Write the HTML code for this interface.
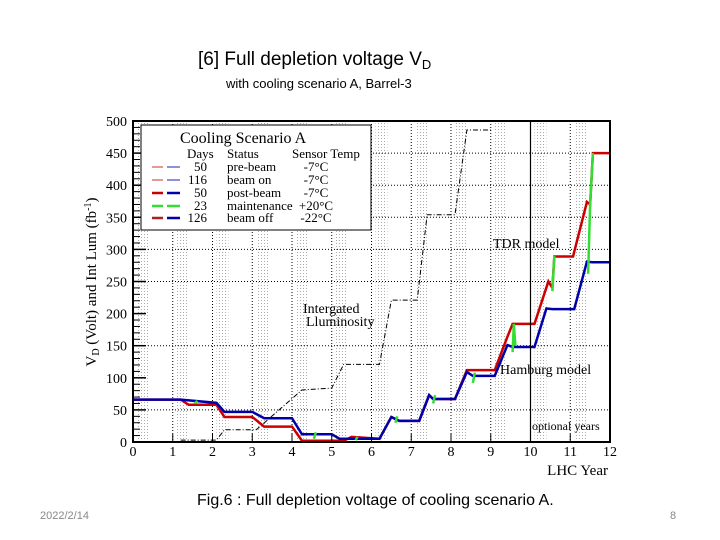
<!DOCTYPE html>
<html><head><meta charset="utf-8"><style>
html,body{margin:0;padding:0;background:#fff;}
svg{display:block;font-family:"Liberation Serif",serif;}
</style></head><body>
<svg id="chart" width="720" height="540" viewBox="0 0 720 540" xmlns="http://www.w3.org/2000/svg">
<defs>
<pattern id="stip" width="3" height="3" patternUnits="userSpaceOnUse"><rect width="1" height="1" fill="#aaa"/></pattern>
</defs>
<text x="198" y="65" font-family="Liberation Sans, sans-serif" font-size="19">[6] Full depletion voltage V<tspan font-size="13" dy="4">D</tspan></text>
<text x="226" y="88" font-family="Liberation Sans, sans-serif" font-size="13">with cooling scenario A,  Barrel-3</text>
<g id="bands"></g>
<g id="grid"></g>
<g id="series"></g>
<rect x="133" y="121" width="477" height="321" fill="none" stroke="#000" stroke-width="2"/>
<g id="axes"></g>
<text transform="translate(96,282) rotate(-90)" text-anchor="middle" font-size="15">V<tspan font-size="10" dy="3">D</tspan><tspan dy="-3"> (Volt) and  Int Lum (fb</tspan><tspan font-size="10" dy="-5">-1</tspan><tspan dy="5">)</tspan></text>
<text x="608" y="475" text-anchor="end" font-size="15">LHC Year</text>
<text x="493" y="248" font-size="14">TDR model</text>
<text x="500" y="374" font-size="14">Hamburg model</text>
<text x="303" y="313" font-size="14">Intergated</text>
<text x="306" y="326" font-size="14">Lluminosity</text>
<text x="532" y="430" font-size="12">optional years</text>
<g>
<rect x="141" y="125" width="230" height="105" fill="#fff" stroke="#000" stroke-width="1"/>
<text x="180" y="143" font-size="16">Cooling Scenario A</text>
<g font-size="13">
<text x="187" y="158">Days</text><text x="227" y="158">Status</text><text x="292" y="158">Sensor Temp</text>
<text x="207" y="171" text-anchor="end">50</text><text x="227" y="171">pre-beam</text><text x="316" y="171" text-anchor="middle">-7°C</text>
<text x="207" y="184" text-anchor="end">116</text><text x="227" y="184">beam on</text><text x="316" y="184" text-anchor="middle">-7°C</text>
<text x="207" y="197" text-anchor="end">50</text><text x="227" y="197">post-beam</text><text x="316" y="197" text-anchor="middle">-7°C</text>
<text x="207" y="210" text-anchor="end">23</text><text x="227" y="210">maintenance</text><text x="316" y="210" text-anchor="middle">+20°C</text>
<text x="207" y="222" text-anchor="end">126</text><text x="227" y="222">beam off</text><text x="316" y="222" text-anchor="middle">-22°C</text>
</g>
<line x1="152" y1="167" x2="163" y2="167" stroke="#c33" stroke-width="1"/><line x1="167" y1="167" x2="180" y2="167" stroke="#22a" stroke-width="1"/>
<line x1="152" y1="180" x2="163" y2="180" stroke="#c33" stroke-width="1"/><line x1="167" y1="180" x2="180" y2="180" stroke="#22a" stroke-width="1"/>
<line x1="152" y1="193" x2="163" y2="193" stroke="#c00" stroke-width="2.5"/><line x1="167" y1="193" x2="180" y2="193" stroke="#00a" stroke-width="2.5"/>
<line x1="152" y1="206" x2="163" y2="206" stroke="#3d3" stroke-width="2.5"/><line x1="167" y1="206" x2="180" y2="206" stroke="#3d3" stroke-width="2.5"/>
<line x1="152" y1="218" x2="163" y2="218" stroke="#a22" stroke-width="2.5"/><line x1="167" y1="218" x2="180" y2="218" stroke="#00a" stroke-width="2.5"/>
</g>
<text x="197" y="505" font-family="Liberation Sans, sans-serif" font-size="16">Fig.6 : Full depletion voltage of cooling scenario A.</text>
<text x="40" y="519" font-family="Liberation Sans, sans-serif" font-size="11" fill="#888">2022/2/14</text>
<text x="670" y="519" font-family="Liberation Sans, sans-serif" font-size="11" fill="#888">8</text>
</svg>
<script>
const xTicks=[0,1,2,3,4,5,6,7,8,9,10,11,12];
const yTicks=[0,50,100,150,200,250,300,350,400,450,500];
const gridY=[50,150,250,300,350,400,450];
const bandStart=[0.1,1.1,2.1,3.1,4.1,5.1,6.1,7.1,8.1,9.1,10.1,11.1];
const bandEnd=[0.4,1.4,2.4,3.4,4.4,5.4,6.4,7.4,8.4,9.4,10.4,11.4];
const blueX=[0,1.2,2.1,2.3,3.0,3.3,4.0,4.25,5.0,5.2,6.2,6.5,6.7,7.2,7.45,7.55,8.1,8.4,8.55,9.1,9.42,9.55,10.1,10.4,10.55,11.1,11.42,11.55,12];
const blueY=[66,66,61,47,47,37,37,12,12,5,5,39,33,33,73,67,67,109,103,103,151,148,148,208,207,207,281,280,280];
const redX=[0,1.2,1.4,2.1,2.3,3.0,3.3,4.0,4.25,5.3,5.5,6.2,6.5,6.7,7.2,7.45,7.55,8.1,8.4,9.1,9.42,9.55,10.1,10.45,10.55,10.6,11.07,11.42,11.5,11.57,12];
const redY=[66,66,58,58,39,39,24,24,2,2,8,5,39,33,33,73,67,67,112,112,164,184,184,250,240,289,289,374,370,450,450];
const greenX=[1.55,1.62,null,4.55,4.6,null,5.6,5.65,null,6.6,6.65,null,7.55,7.6,null,8.55,8.6,null,9.55,9.58,9.62,null,10.55,10.6,null,11.45,11.5,11.57,null];
const greenY=[60,64,null,5,15,null,3,8,null,30,40,null,60,73,null,92,108,null,140,184,150,null,235,290,null,262,370,450,null];
const lumiX=[1.2,2.1,2.3,3.1,4.25,5.0,5.3,6.2,6.5,7.15,7.4,8.1,8.4,9.05];
const lumiY=[3,3,19,19,81,84,121,121,221,221,354,354,486,486];
const X=v=>133+v*39.75, Y=v=>442-v*0.642;
const NS="http://www.w3.org/2000/svg";
function mk(tag,parent,attrs){const e=document.createElementNS(NS,tag);for(const k in attrs)e.setAttribute(k,attrs[k]);parent.appendChild(e);return e;}
const bands=document.getElementById('bands'),grid=document.getElementById('grid'),series=document.getElementById('series'),axes=document.getElementById('axes');
bandStart.forEach((s,i)=>{const r=mk('rect',bands,{x:X(s),y:121,width:X(bandEnd[i])-X(s),height:321,fill:'url(#stip)'});

});
xTicks.forEach(t=>{if(t>0&&t<12){const l=mk('line',grid,{x1:X(t),x2:X(t),y1:121,y2:442,stroke:'#000','stroke-width':1,'stroke-dasharray':'1,2'});

}
const tx=mk('text',axes,{x:X(t),y:456,'text-anchor':'middle','font-size':14});tx.textContent=t;


const tk=mk('line',axes,{x1:X(t),x2:X(t),y1:442,y2:434,stroke:'#000'});

});
gridY.forEach(v=>{const l=mk('line',grid,{x1:133,x2:610,y1:Y(v),y2:Y(v),stroke:'#000','stroke-width':1,'stroke-dasharray':'1,2'});

});
yTicks.forEach(v=>{const tx=mk('text',axes,{x:127,y:Y(v)+5,'text-anchor':'end','font-size':14});tx.textContent=v;


const tk=mk('line',axes,{x1:133,x2:146,y1:Y(v),y2:Y(v),stroke:'#000','stroke-width':1.5});


for(let m=10;m<50&&v<500;m+=10){const mt=mk('line',axes,{x1:133,x2:140,y1:Y(v+m),y2:Y(v+m),stroke:'#000'});

}});
const vl=mk('line',axes,{x1:X(10),x2:X(10),y1:121,y2:442,stroke:'#000','stroke-width':1.2});


function pts(xs,ys){return xs.map((x,i)=>X(x)+','+Y(ys[i])).join(' ');}
const lumi=mk('polyline',series,{points:pts(lumiX,lumiY),fill:'none',stroke:'#000','stroke-width':1,'stroke-dasharray':'5,2,1,2'});


const red=mk('polyline',series,{points:pts(redX,redY),fill:'none',stroke:'#c00','stroke-width':2.5});


const blue=mk('polyline',series,{points:pts(blueX,blueY),fill:'none',stroke:'#00a','stroke-width':2.5});


let seg=[];
greenX.forEach((x,i)=>{if(x===null){if(seg.length>1){const g=mk('polyline',series,{points:seg.join(' '),fill:'none',stroke:'#3d3','stroke-width':2.5});

}seg=[];}else seg.push(X(x)+','+Y(greenY[i]));});
</script>
</body></html>
